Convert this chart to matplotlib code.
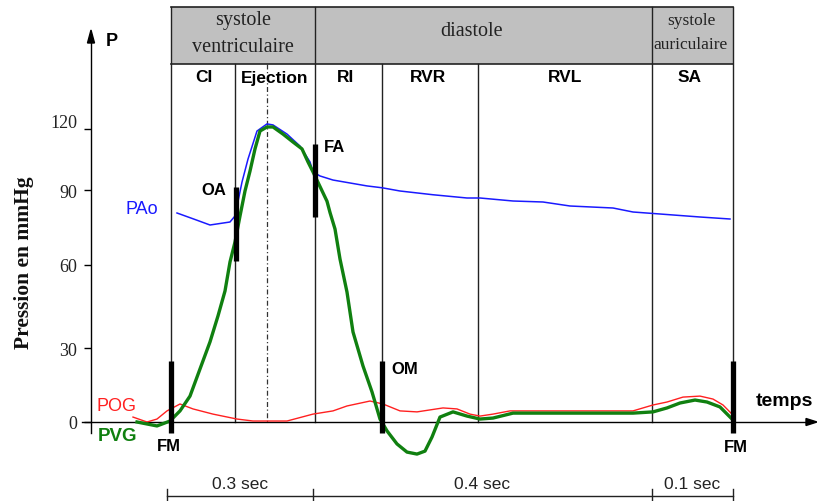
import numpy as np
import matplotlib
matplotlib.use("Agg")
import matplotlib.pyplot as plt
from matplotlib.patches import Rectangle, Polygon
from matplotlib.scale import FuncScale
from matplotlib.transforms import ScaledTranslation

# ---------------- data (pressure in mmHg, t = position along the cardiac cycle) -------------
t_pao = [177, 195, 210, 230, 235, 242, 248, 257, 267, 273, 287, 300, 310, 313, 320, 333, 367,
         382, 400, 433, 467, 480, 513, 543, 570, 613, 633, 660, 700, 730]
p_pao = [80.8, 78.2, 76.0, 77.2, 79.6, 93.9, 105.2, 119.0, 122.5, 122.0, 117.5, 111.6, 103.8,
         98.9, 96.9, 94.9, 92.0, 91.1, 89.6, 88.1, 86.8, 86.8, 85.6, 85.2, 83.6, 82.8, 81.2,
         80.4, 79.2, 78.4]

t_pvg = [137, 157, 170, 180, 190, 200, 210, 218, 225, 230, 235, 240, 245, 250, 255, 260, 267,
         273, 283, 293, 302, 308, 313, 320, 327, 330, 335, 340, 347, 353, 363, 372, 380, 387,
         397, 407, 417, 425, 432, 440, 453, 467, 480, 493, 513, 633, 653, 667, 680, 695, 707,
         720, 732]
p_pvg = [0, -1.6, 0.4, 4.5, 10.5, 21.5, 32.2, 41.6, 50.6, 61.2, 69.2, 79.6, 89.6, 99.3, 110.2,
         119.0, 121.0, 121.0, 117.5, 113.6, 110.2, 103.8, 98.9, 91.7, 85.5, 81.0, 74.4, 62.4,
         50.2, 35.8, 22.7, 12.2, 1.2, -3.6, -8.9, -12.2, -13.0, -11.8, -6.1, 2.0, 4.1, 2.4,
         1.2, 1.6, 3.6, 3.6, 4.1, 5.7, 7.7, 8.9, 8.1, 6.1, 1.2]

t_pog = [133, 147, 157, 167, 180, 193, 213, 237, 253, 287, 313, 333, 347, 370, 383, 400, 417,
         443, 457, 470, 480, 493, 510, 633, 653, 667, 683, 700, 713, 723, 732]
p_pog = [2.0, 0, 1.2, 4.5, 7.3, 5.3, 3.2, 1.2, 0.4, 0.4, 3.2, 4.5, 6.5, 8.5, 7.3, 4.5, 4.1,
         5.7, 5.3, 3.2, 2.4, 3.2, 4.5, 4.5, 6.9, 8.1, 10.1, 10.5, 9.3, 6.9, 3.2]

y_ticks = [0, 30, 60, 90, 120]

# valve events
valve_t = [171, 236, 315, 382, 733]
valve_lo = [-4.5, 61.6, 79.2, -4.5, -4.5]
valve_hi = [24.7, 91.5, 112.6, 24.7, 24.7]
valve_labels = ["FM", "OA", "FA", "OM", "FM"]

# phases
big_phases = ["systole\nventriculaire", "diastole", "systole\nauriculaire"]
big_bounds = [171, 315, 652, 733]
sub_phases = ["CI", "Ejection", "RI", "RVR", "RVL", "SA"]
sub_bounds = [171, 235, 315, 382, 478, 652, 733]
peak_t = 267
durations = ["0.3 sec", "0.4 sec", "0.1 sec"]
dur_bounds = [167, 313, 652, 733]

# ---------------- figure ----------------
W, H = 817, 502
fig = plt.figure(figsize=(W / 100, H / 100), dpi=100)
SERIF = "Liberation Serif"
SANS = "Liberation Sans"

# pixel-coordinate overlay for the decorations
deco = fig.add_axes([0, 0, 1, 1], zorder=0)
deco.set_xlim(0, W)
deco.set_ylim(H, 0)
deco.axis("off")

# data axes with the (non uniform) pressure scale of the drawing
MM = np.array([0, 30, 60, 90, 120], float)
PX = np.array([0, 74, 157, 232, 293], float)


def fwd(v):
    v = np.asarray(v, float)
    out = np.interp(v, MM, PX)
    out = np.where(v < 0, v * 74 / 30, out)
    out = np.where(v > 120, 293 + (v - 120) * 61 / 30, out)
    return out


def inv(h):
    h = np.asarray(h, float)
    out = np.interp(h, PX, MM)
    out = np.where(h < 0, h * 30 / 74, out)
    out = np.where(h > 293, 120 + (h - 293) * 30 / 61, out)
    return out


BASE = 423  # pixel row of 0 mmHg
ax = fig.add_axes([0, 0, 1, 1], zorder=1)
ax.patch.set_alpha(0)
ax.set_yscale(FuncScale(ax, (fwd, inv)))
ax.set_xlim(0, W)
ax.set_ylim(float(inv(BASE - H)), float(inv(BASE)))

for s in ["top", "right"]:
    ax.spines[s].set_visible(False)
ax.spines["left"].set_position(("data", 91))
ax.spines["left"].set_bounds(float(inv(-11)), float(inv(BASE - 43)))
ax.spines["bottom"].set_position(("data", 0))
ax.spines["bottom"].set_bounds(82, 808)
for s in ["left", "bottom"]:
    ax.spines[s].set_linewidth(1.0)
    ax.spines[s].set_color("black")
ax.set_xticks([])
ax.set_yticks(y_ticks)
ax.set_yticklabels([str(v) for v in y_ticks], fontfamily=SERIF, fontsize=13, color="#222222")
ax.tick_params(axis="y", direction="out", length=5, width=1, pad=5)
lab120 = ax.get_yticklabels()[-1]
lab120.set_transform(lab120.get_transform() + ScaledTranslation(0, 0.09, fig.dpi_scale_trans))

# arrow heads
deco.add_patch(Polygon([(87.5, 44), (94.5, 44), (91, 31)], closed=True, color="black"))
deco.add_patch(Polygon([(806, 419.5), (806, 426.5), (817, 423)], closed=True, color="black"))

# ---------------- header table ----------------
top, mid = 8, 65
deco.add_patch(Rectangle((big_bounds[0], top), big_bounds[-1] - big_bounds[0], mid - top,
                         facecolor="#c0c0c0", edgecolor="none", zorder=1))
deco.plot([big_bounds[0], big_bounds[-1]], [top, top], color="#222222", lw=1.2, zorder=2)
deco.plot([big_bounds[0], big_bounds[-1]], [mid, mid], color="#222222", lw=1.2, zorder=2)
for xb in big_bounds:
    deco.plot([xb, xb], [top, BASE], color="#222222", lw=1.0, zorder=2)
for xb in sub_bounds[1:-1]:
    if xb not in big_bounds:
        deco.plot([xb, xb], [mid, BASE], color="#222222", lw=1.0, zorder=2)
deco.plot([peak_t, peak_t], [mid, BASE], color="#333333", lw=0.9, ls=(0, (4, 2, 1, 2)), zorder=2)

big_pos = [(243, 20, 48), (472, 31, None), (691, 21, 45)]
big_size = [14.5, 14.5, 12.5]
for txt, (xc, y1, y2), fs in zip(big_phases, big_pos, big_size):
    lines = txt.split("\n")
    deco.text(xc, y1, lines[0], ha="center", va="center", fontfamily=SERIF,
              fontsize=fs, color="#222222", zorder=3)
    if len(lines) > 1:
        deco.text(xc, y2, lines[1], ha="center", va="center", fontfamily=SERIF,
                  fontsize=fs, color="#222222", zorder=3)

sub_cx = [204, 275, 346, 428, 565, 690]
for txt, xc in zip(sub_phases, sub_cx):
    deco.text(xc, 78, txt, ha="center", va="center", fontfamily=SANS, fontweight="bold",
              fontsize=12.5, color="black", zorder=3)

# ---------------- curves ----------------
ax.plot(t_pao, p_pao, color="#1a1aff", lw=1.1, zorder=4)
ax.plot(t_pog, p_pog, color="#ff2020", lw=1.0, zorder=4)
ax.plot(t_pvg, p_pvg, color="#108010", lw=2.4, zorder=5, solid_joinstyle="round")
ax.vlines(valve_t, valve_lo, valve_hi, color="black", lw=3.8, zorder=6)

# ---------------- labels ----------------
deco.text(112, 42, "P", ha="center", va="center", fontfamily=SANS, fontweight="bold", fontsize=13)
deco.text(784, 402, "temps", ha="center", va="center", fontfamily=SANS, fontweight="bold", fontsize=14)
deco.text(24, 263, "Pression en mmHg", rotation=90, ha="center", va="center",
          fontfamily=SERIF, fontweight="bold", fontsize=15.5, color="#111111")
deco.text(142, 210, "PAo", ha="center", va="center", fontfamily=SANS, fontsize=13, color="#1a1aff")
deco.text(117, 407, "POG", ha="center", va="center", fontfamily=SANS, fontsize=13, color="#ff2020")
deco.text(118, 437, "PVG", ha="center", va="center", fontfamily=SANS, fontweight="bold",
          fontsize=13.5, color="#108010")

valve_lab_pos = [(169, 447), (214, 191), (335, 148), (405, 370), (736, 448)]
for txt, (xl, yl) in zip(valve_labels, valve_lab_pos):
    deco.text(xl, yl, txt, ha="center", va="center", fontfamily=SANS, fontweight="bold",
              fontsize=12, color="black")

# ---------------- duration bar ----------------
ybar = 497
deco.plot([dur_bounds[0], dur_bounds[-1]], [ybar, ybar], color="#222222", lw=1.0)
for xb in dur_bounds:
    deco.plot([xb, xb], [490, 502], color="#222222", lw=1.0)
for i, txt in enumerate(durations):
    xc = (dur_bounds[i] + dur_bounds[i + 1]) / 2
    deco.text(xc, 485, txt, ha="center", va="center", fontfamily=SANS, fontsize=12.5, color="#222222")

fig.savefig("out.png", dpi=100)
